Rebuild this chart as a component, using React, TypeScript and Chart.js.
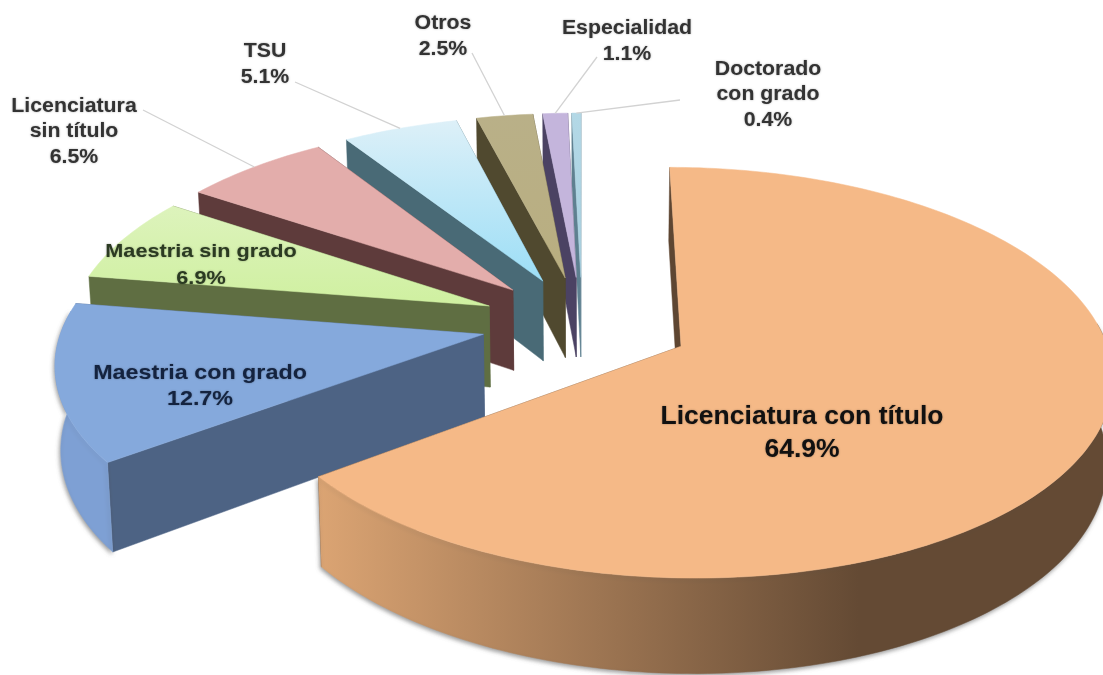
import React, { useEffect, useRef } from "react";
import { Chart, registerables } from "chart.js";

Chart.register(...registerables);

// Data
const categories = [
  "Licenciatura con título",
  "Maestria con grado",
  "Maestria sin grado",
  "Licenciatura sin título",
  "TSU",
  "Otros",
  "Especialidad",
  "Doctorado con grado",
];
const values = [64.9, 12.7, 6.9, 6.5, 5.1, 2.5, 1.1, 0.4];
const labelLines = [
  ["Licenciatura con título", "64.9%"],
  ["Maestria con grado", "12.7%"],
  ["Maestria sin grado", "6.9%"],
  ["Licenciatura", "sin título", "6.5%"],
  ["TSU", "5.1%"],
  ["Otros", "2.5%"],
  ["Especialidad", "1.1%"],
  ["Doctorado", "con grado", "0.4%"],
];

// Styles
const topColorsA = ["#F5B987", "#85A9DC", "#DDF3BC", "#E3ADAB", "#DDF0F8", "#B9B088", "#C4B5DC", "#B3D8E6"];
const topColorsB = ["#F5B987", "#85A9DC", "#CFF0A0", "#E3ADAB", "#9CDEF6", "#B9AE80", "#C4B5DC", "#A8D0E0"];
const faceColors = ["#5E4632", "#4D6384", "#5F6E42", "#5E3B3B", "#496A76", "#50492F", "#4B4263", "#5E8090"];
const wallColorsA = ["#DBA473", "#7EA0D4", "#5F6E42", "#5E3B3B", "#496A76", "#50492F", "#4B4263", "#5E8090"];
const wallColorsB = ["#644A34", "#7EA0D4", "#5F6E42", "#5E3B3B", "#496A76", "#50492F", "#4B4263", "#5E8090"];
const wallGradientEnd = [0.68, 1, 1, 1, 1, 1, 1, 1];
const explodeBySlice = [0.26, 0.24, 0.24, 0.24, 0.24, 0.24, 0.24, 0.24];
const labelCenters = [
  [802, 417], [200, 373], [201, 252], [74, 106], [265, 51], [443, 23], [627, 28], [768, 69],
];
const labelLineHeights = [33, 26, 27, 25.5, 26, 26, 26, 25.5];
const labelFontSizes = [26, 21, 19, 20, 20, 20, 20, 20];
const labelScaleX = [1.02, 1.11, 1.14, 1.065, 1.065, 1.065, 1.065, 1.065];
const labelColors = ["#111", "#14233F", "#2B3A22", "#333", "#333", "#333", "#333", "#333"];
const leaderStarts: (number[] | null)[] = [null, null, null, [143, 110], [295, 82], [472, 53], [597, 57], [680, 100]];

const view = { cx: 582, cy: 323, R: 420, Ry: 196, k: 0.127, depth: 82, shrink: 0.011 };

function project(wx: number, wy: number, z: number) {
  const s = 1 / (1 + view.k * wy);
  const x = view.cx + wx * view.R * s * (1 - view.shrink * z);
  const y = view.cy - wy * view.Ry * s + z * view.depth * s;
  return [x, y];
}

function poly(ctx: CanvasRenderingContext2D, pts: number[][], fill: string | CanvasGradient) {
  ctx.beginPath();
  pts.forEach((p, i) => (i ? ctx.lineTo(p[0], p[1]) : ctx.moveTo(p[0], p[1])));
  ctx.closePath();
  ctx.fillStyle = fill;
  ctx.strokeStyle = fill;
  ctx.lineWidth = 0.5;
  ctx.fill();
  ctx.stroke();
}

const pie3d = {
  id: "pie3d",
  beforeDatasetsDraw(chart: any) {
    const ctx: CanvasRenderingContext2D = chart.ctx;
    const arcs = chart.getDatasetMeta(0).data;
    const geom = arcs.map((arc: any, i: number) => {
      const a0 = arc.startAngle + Math.PI / 2;
      const a1 = arc.endAngle + Math.PI / 2;
      const mid = (a0 + a1) / 2;
      const ox = Math.sin(mid) * explodeBySlice[i];
      const oy = Math.cos(mid) * explodeBySlice[i];
      const steps = Math.max(2, Math.ceil((a1 - a0) / 0.02));
      const rim: number[][] = [];
      const front: number[][] = [];
      for (let j = 0; j <= steps; j++) {
        const t = a0 + ((a1 - a0) * j) / steps;
        const p = [ox + Math.sin(t), oy + Math.cos(t)];
        rim.push(p);
        if (Math.cos(t) < 0.12) front.push(p);
      }
      return { ox, oy, rim, front, mid };
    });

    const order = arcs.map((_: any, i: number) => i).reverse();
    for (const i of order) {
      const { ox, oy, rim, front } = geom[i];
      const topApex = project(ox, oy, 0);
      const botApex = project(ox, oy, 1);
      const rimTop = rim.map((p: number[]) => project(p[0], p[1], 0));
      const rimBot = rim.map((p: number[]) => project(p[0], p[1], 1));
      const last = rim.length - 1;
      // radial faces
      poly(ctx, [topApex, rimTop[last], rimBot[last], botApex], faceColors[i]);
      poly(ctx, [topApex, rimTop[0], rimBot[0], botApex], faceColors[i]);
      // outer wall, front-facing part only
      if (front.length > 1) {
        const fTop = front.map((p: number[]) => project(p[0], p[1], 0));
        const fBot = front.map((p: number[]) => project(p[0], p[1], 1));
        const xs = fTop.map((p: number[]) => p[0]);
        const wg = ctx.createLinearGradient(Math.min(...xs), 0, Math.max(...xs), 0);
        wg.addColorStop(0, wallColorsA[i]);
        wg.addColorStop(wallGradientEnd[i], wallColorsB[i]);
        ctx.save();
        ctx.shadowColor = "rgba(70,70,70,0.55)";
        ctx.shadowBlur = 4;
        ctx.shadowOffsetX = -1;
        ctx.shadowOffsetY = 2;
        poly(ctx, [...fTop, ...fBot.slice().reverse()], wg);
        ctx.restore();
      }
      // top surface
      const ys = [topApex[1], ...rimTop.map((p: number[]) => p[1])];
      const tg = ctx.createLinearGradient(0, Math.min(...ys), 0, Math.max(...ys));
      tg.addColorStop(0, topColorsA[i]);
      tg.addColorStop(1, topColorsB[i]);
      poly(ctx, [topApex, ...rimTop], tg);
    }

    // leader lines
    ctx.strokeStyle = "#D2D2D2";
    ctx.lineWidth = 1.3;
    leaderStarts.forEach((st, i) => {
      if (!st) return;
      const { ox, oy, mid } = geom[i];
      const end = project(ox + Math.sin(mid), oy + Math.cos(mid), 0);
      ctx.beginPath();
      ctx.moveTo(st[0], st[1]);
      ctx.lineTo(end[0], end[1]);
      ctx.stroke();
    });

    // labels
    ctx.textAlign = "center";
    ctx.textBaseline = "middle";
    labelLines.forEach((lines, i) => {
      ctx.font = `bold ${labelFontSizes[i]}px "Liberation Sans", Arial, sans-serif`;
      ctx.fillStyle = labelColors[i];
      lines.forEach((txt, n) => {
        ctx.save();
        ctx.translate(labelCenters[i][0], labelCenters[i][1] + n * labelLineHeights[i]);
        ctx.scale(labelScaleX[i], 1);
        ctx.shadowColor = "rgba(0,0,0,0.35)";
        ctx.shadowBlur = 2;
        ctx.fillText(txt, 0, 0);
        ctx.restore();
      });
    });
    return false;
  },
};

export default function App() {
  const ref = useRef<HTMLCanvasElement>(null);
  useEffect(() => {
    document.body.style.margin = "0";
    document.body.style.background = "#fff";
    const chart = new Chart(ref.current!, {
      type: "pie",
      data: {
        labels: categories,
        datasets: [{ data: values, backgroundColor: topColorsB }],
      },
      options: {
        responsive: false,
        animation: false,
        plugins: { legend: { display: false }, tooltip: { enabled: false } },
      },
      plugins: [pie3d],
    });
    return () => chart.destroy();
  }, []);
  return (
    <canvas
      ref={ref}
      width={1103}
      height={675}
      style={{ display: "block", width: 1103, height: 675, filter: "blur(0.7px)" }}
    />
  );
}
